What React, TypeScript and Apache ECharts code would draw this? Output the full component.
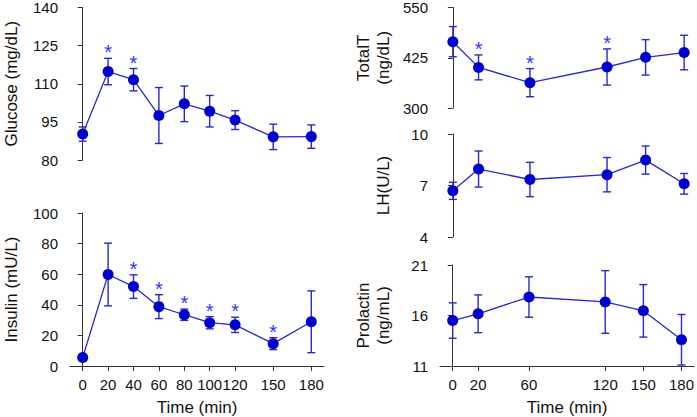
import React, { useEffect, useRef } from "react";
import * as echarts from "echarts";

const timeLeft = [0, 20, 40, 60, 80, 100, 120, 150, 180];
const timeRight = [0, 20, 60, 120, 150, 180];
const ticksLeftX = [0, 20, 40, 60, 80, 100, 120, 150, 180];
const ticksRightX = [0, 20, 60, 120, 150, 180];

const glucoseMean = [90.2, 114.8, 111.6, 97.5, 102.1, 99.2, 95.7, 89.1, 89.2];
const glucoseErr = [2.8, 5.2, 4.4, 11, 7, 6.2, 3.7, 5, 4.6];
const glucoseSig = [false, true, true, false, false, false, false, false, false];
const glucoseTicks = [80, 95, 110, 125, 140];

const insulinMean = [5.5, 59.8, 51.9, 38.8, 33.5, 28.3, 26.9, 14.6, 28.9];
const insulinErr = [1, 20.5, 7.7, 7.8, 3.7, 4, 5, 3.9, 20.2];
const insulinSig = [false, false, true, true, true, true, true, true, false];
const insulinTicks = [0, 20, 40, 60, 80, 100];

const totalTMean = [465, 401, 363, 402, 426, 438];
const totalTErr = [37.5, 31, 35, 45, 44, 43];
const totalTSig = [false, true, true, true, false, false];
const totalTTicks = [300, 425, 550];

const lhMean = [6.69, 7.96, 7.35, 7.63, 8.48, 7.1];
const lhErr = [0.5, 1.05, 1.0, 1.0, 0.82, 0.6];
const lhSig = [false, false, false, false, false, false];
const lhTicks = [4, 7, 10];

const prolactinMean = [15.5, 16.17, 17.83, 17.34, 16.46, 13.6];
const prolactinErr = [1.75, 1.87, 2, 3.1, 2.6, 2.5];
const prolactinSig = [false, false, false, false, false, false];
const prolactinTicks = [11, 16, 21];

const FONT = "Liberation Sans, Arial, sans-serif";
const POINT = "#0000CC";
const LINE = "#2828CC";
const STAR = "#3333FF";
const AXIS = "#333333";

type Panel = {
  name: string;
  time: number[];
  mean: number[];
  err: number[];
  sig: boolean[];
  yTicks: number[];
  xTicks: number[];
  showX: boolean;
  grid: { left: number; top: number; width: number; height: number };
  nameGap: number;
};

const panels: Panel[] = [
  { name: "Glucose (mg/dL)", time: timeLeft, mean: glucoseMean, err: glucoseErr, sig: glucoseSig, yTicks: glucoseTicks, xTicks: ticksLeftX, showX: false, grid: { left: 66, top: 6, width: 258, height: 154 }, nameGap: 49 },
  { name: "Insulin (mU/L)", time: timeLeft, mean: insulinMean, err: insulinErr, sig: insulinSig, yTicks: insulinTicks, xTicks: ticksLeftX, showX: true, grid: { left: 66, top: 213, width: 258, height: 153 }, nameGap: 49 },
  { name: "TotalT\n(ng/dL)", time: timeRight, mean: totalTMean, err: totalTErr, sig: totalTSig, yTicks: totalTTicks, xTicks: ticksRightX, showX: false, grid: { left: 440, top: 6, width: 257, height: 102 }, nameGap: 47 },
  { name: "LH(U/L)", time: timeRight, mean: lhMean, err: lhErr, sig: lhSig, yTicks: lhTicks, xTicks: ticksRightX, showX: false, grid: { left: 440, top: 134, width: 257, height: 103 }, nameGap: 47 },
  { name: "Prolactin\n(ng/mL)", time: timeRight, mean: prolactinMean, err: prolactinErr, sig: prolactinSig, yTicks: prolactinTicks, xTicks: ticksRightX, showX: true, grid: { left: 440, top: 265, width: 257, height: 102 }, nameGap: 47 },
];

function buildOption() {
  const grid: any[] = [];
  const xAxis: any[] = [];
  const yAxis: any[] = [];
  const series: any[] = [];
  panels.forEach((p, i) => {
    grid.push({ ...p.grid, containLabel: false });
    xAxis.push({
      type: "value",
      gridIndex: i,
      min: -10,
      max: 190,
      show: p.showX,
      name: p.showX ? "Time (min)" : "",
      nameLocation: "middle",
      nameGap: 33,
      nameTextStyle: { fontFamily: FONT, fontSize: 17, color: "#111" },
      axisLine: { show: true, lineStyle: { color: AXIS, width: 1 } },
      axisTick: { show: true, length: 5, customValues: p.xTicks, lineStyle: { color: AXIS } },
      axisLabel: { show: true, customValues: p.xTicks, fontFamily: FONT, fontSize: 15, color: "#111", margin: 11 },
      splitLine: { show: false },
    });
    const yMin = p.yTicks[0];
    const yMax = p.yTicks[p.yTicks.length - 1];
    yAxis.push({
      type: "value",
      gridIndex: i,
      min: yMin,
      max: yMax,
      name: p.name,
      nameLocation: "middle",
      nameRotate: 90,
      nameGap: p.nameGap,
      nameTextStyle: { fontFamily: FONT, fontSize: 17, color: "#111", lineHeight: 20 },
      axisLine: { show: true, lineStyle: { color: AXIS, width: 1 } },
      axisTick: { show: true, length: 5, customValues: p.yTicks, lineStyle: { color: AXIS } },
      axisLabel: { customValues: p.yTicks, fontFamily: FONT, fontSize: 15, color: "#111", margin: 12 },
      splitLine: { show: false },
    });
    const errData = p.time.map((t, k) => [t, p.mean[k] - p.err[k], p.mean[k] + p.err[k], p.sig[k] ? 1 : 0]);
    series.push({
      type: "custom",
      xAxisIndex: i,
      yAxisIndex: i,
      data: errData,
      z: 2,
      renderItem: (params: any, api: any) => {
        const x = api.value(0);
        const lo = api.value(1);
        const hi = api.value(2);
        const sig = api.value(3);
        const top = api.coord([x, hi]);
        const bot = api.coord([x, lo]);
        const hw = 4;
        const style = { stroke: LINE, lineWidth: 1.4, fill: null };
        const children: any[] = [
          { type: "line", shape: { x1: top[0], y1: top[1], x2: bot[0], y2: bot[1] }, style },
          { type: "line", shape: { x1: top[0] - hw, y1: top[1], x2: top[0] + hw, y2: top[1] }, style },
          { type: "line", shape: { x1: bot[0] - hw, y1: bot[1], x2: bot[0] + hw, y2: bot[1] }, style },
        ];
        if (sig) {
          children.push({
            type: "text",
            style: { text: "*", x: top[0], y: top[1] - 6, align: "center", verticalAlign: "middle", fontFamily: FONT, fontSize: 20, fill: STAR },
          });
        }
        return { type: "group", children };
      },
    });
    series.push({
      type: "line",
      xAxisIndex: i,
      yAxisIndex: i,
      data: p.time.map((t, k) => [t, p.mean[k]]),
      symbol: "circle",
      symbolSize: 11,
      z: 3,
      itemStyle: { color: POINT },
      lineStyle: { color: LINE, width: 1.3 },
    });
  });
  return { animation: false, grid, xAxis, yAxis, series };
}

export default function App() {
  const ref = useRef<HTMLDivElement>(null);
  useEffect(() => {
    document.body.style.margin = "0";
    const chart = echarts.init(ref.current!, undefined, { renderer: "svg" });
    chart.setOption(buildOption() as any);
    return () => chart.dispose();
  }, []);
  return <div ref={ref} style={{ width: 697, height: 417, position: "absolute", left: 0, top: 0, background: "#fff" }} />;
}
